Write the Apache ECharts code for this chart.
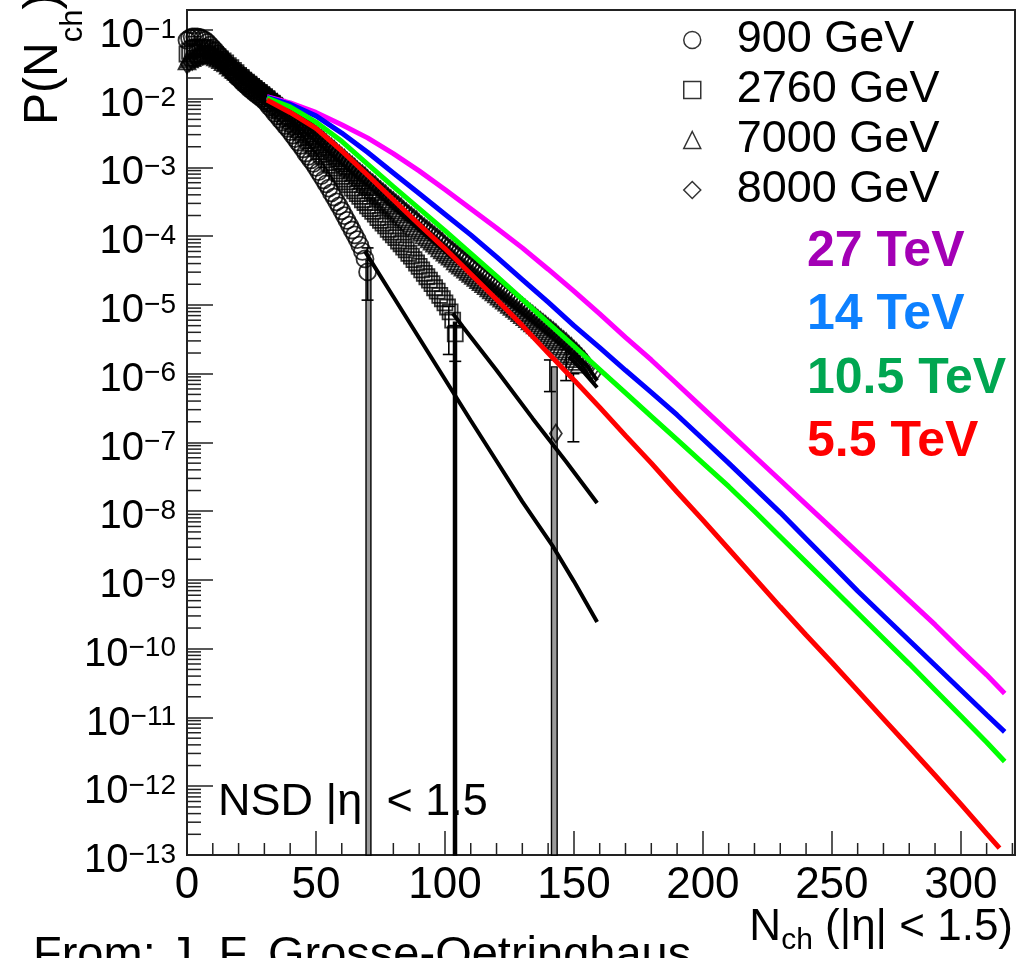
<!DOCTYPE html>
<html>
<head>
<meta charset="utf-8">
<script src="https://cdn.jsdelivr.net/npm/echarts@6.0.0/dist/echarts.min.js"></script>
<style>
html,body{margin:0;padding:0;background:#ffffff;}
#chart{width:1026px;height:958px;}
</style>
</head>
<body>
<div id="chart"></div>
<script>
// ---------- values: [N_ch, log10 P(N_ch)] ----------
const data900 = [[0,-1.15],[1,-1.12],[2,-1.10],[3,-1.10],[4,-1.10],[5,-1.11],[6,-1.13],[7,-1.15],[8,-1.18],[9,-1.22],[10,-1.26],[11,-1.30],[12,-1.35],[13,-1.39],[14,-1.44],[15,-1.48],[16,-1.53],[17,-1.57],[18,-1.62],[19,-1.66],[20,-1.70],[21,-1.74],[22,-1.78],[23,-1.81],[24,-1.85],[25,-1.88],[26,-1.91],[27,-1.94],[28,-1.97],[29,-2.00],[30,-2.03],[31,-2.07],[32,-2.12],[33,-2.16],[34,-2.21],[35,-2.25],[36,-2.30],[37,-2.34],[38,-2.39],[39,-2.43],[40,-2.48],[41,-2.53],[42,-2.58],[43,-2.63],[44,-2.68],[45,-2.73],[46,-2.79],[47,-2.84],[48,-2.89],[49,-2.94],[50,-3.00],[51,-3.06],[52,-3.12],[53,-3.18],[54,-3.24],[55,-3.30],[56,-3.37],[57,-3.43],[58,-3.50],[59,-3.56],[60,-3.63],[61,-3.70],[62,-3.77],[63,-3.84],[64,-3.91],[65,-3.98],[66,-4.05],[67,-4.13],[68,-4.22],[69,-4.33],[70,-4.52]];
const data2760 = [[0,-1.35],[1,-1.31],[2,-1.28],[3,-1.26],[4,-1.25],[5,-1.25],[6,-1.25],[7,-1.26],[8,-1.28],[9,-1.30],[10,-1.33],[11,-1.36],[12,-1.39],[13,-1.42],[14,-1.45],[15,-1.48],[16,-1.52],[17,-1.55],[18,-1.59],[19,-1.62],[20,-1.66],[21,-1.69],[22,-1.73],[23,-1.76],[24,-1.79],[25,-1.82],[26,-1.85],[27,-1.88],[28,-1.91],[29,-1.94],[30,-1.97],[31,-2.00],[32,-2.04],[33,-2.07],[34,-2.11],[35,-2.14],[36,-2.18],[37,-2.22],[38,-2.26],[39,-2.29],[40,-2.33],[41,-2.37],[42,-2.41],[43,-2.45],[44,-2.49],[45,-2.53],[46,-2.57],[47,-2.61],[48,-2.65],[49,-2.69],[50,-2.73],[51,-2.77],[52,-2.81],[53,-2.85],[54,-2.89],[55,-2.93],[56,-2.97],[57,-3.01],[58,-3.05],[59,-3.09],[60,-3.13],[61,-3.17],[62,-3.21],[63,-3.25],[64,-3.30],[65,-3.34],[66,-3.38],[67,-3.42],[68,-3.47],[69,-3.51],[70,-3.56],[71,-3.60],[72,-3.64],[73,-3.68],[74,-3.73],[75,-3.77],[76,-3.81],[77,-3.85],[78,-3.90],[79,-3.94],[80,-3.98],[81,-4.02],[82,-4.07],[83,-4.11],[84,-4.16],[85,-4.20],[86,-4.25],[87,-4.29],[88,-4.34],[89,-4.39],[90,-4.44],[91,-4.49],[92,-4.54],[93,-4.59],[94,-4.64],[95,-4.69],[96,-4.75],[97,-4.80],[98,-4.86],[99,-4.91],[100,-4.97],[101,-5.03],[102,-5.10],[103,-5.22],[104,-5.42]];
const data7000 = [[0,-1.45],[1,-1.42],[2,-1.40],[3,-1.38],[4,-1.36],[5,-1.35],[6,-1.34],[7,-1.34],[8,-1.34],[9,-1.35],[10,-1.37],[11,-1.39],[12,-1.41],[13,-1.43],[14,-1.46],[15,-1.48],[16,-1.51],[17,-1.54],[18,-1.57],[19,-1.60],[20,-1.63],[21,-1.66],[22,-1.69],[23,-1.72],[24,-1.75],[25,-1.78],[26,-1.81],[27,-1.84],[28,-1.87],[29,-1.90],[30,-1.93],[31,-1.96],[32,-1.99],[33,-2.02],[34,-2.05],[35,-2.08],[36,-2.11],[37,-2.14],[38,-2.17],[39,-2.20],[40,-2.24],[41,-2.27],[42,-2.30],[43,-2.33],[44,-2.37],[45,-2.40],[46,-2.43],[47,-2.46],[48,-2.50],[49,-2.53],[50,-2.56],[51,-2.59],[52,-2.63],[53,-2.66],[54,-2.69],[55,-2.72],[56,-2.76],[57,-2.79],[58,-2.83],[59,-2.86],[60,-2.90],[61,-2.93],[62,-2.97],[63,-3.00],[64,-3.04],[65,-3.07],[66,-3.11],[67,-3.14],[68,-3.18],[69,-3.21],[70,-3.25],[71,-3.28],[72,-3.32],[73,-3.35],[74,-3.39],[75,-3.42],[76,-3.46],[77,-3.49],[78,-3.52],[79,-3.55],[80,-3.59],[81,-3.62],[82,-3.65],[83,-3.68],[84,-3.72],[85,-3.75],[86,-3.78],[87,-3.81],[88,-3.85],[89,-3.88],[90,-3.91],[91,-3.94],[92,-3.98],[93,-4.01],[94,-4.04],[95,-4.07],[96,-4.10],[97,-4.13],[98,-4.17],[99,-4.20],[100,-4.23],[101,-4.26],[102,-4.29],[103,-4.32],[104,-4.36],[105,-4.39],[106,-4.42],[107,-4.45],[108,-4.48],[109,-4.51],[110,-4.54],[111,-4.57],[112,-4.60],[113,-4.63],[114,-4.66],[115,-4.69],[116,-4.72],[117,-4.75],[118,-4.78],[119,-4.81],[120,-4.84],[121,-4.87],[122,-4.90],[123,-4.93],[124,-4.96],[125,-4.99],[126,-5.02],[127,-5.05],[128,-5.08],[129,-5.11],[130,-5.14],[131,-5.17],[132,-5.20],[133,-5.23],[134,-5.26],[135,-5.29],[136,-5.32],[137,-5.35],[138,-5.38],[139,-5.41],[140,-5.44],[141,-5.47],[142,-5.50],[143,-5.53],[144,-5.57],[145,-5.60],[146,-5.64],[147,-5.67],[148,-5.71],[149,-5.74],[150,-5.78],[151,-5.82],[152,-5.86]];
const data8000 = [[0,-1.50],[1,-1.47],[2,-1.45],[3,-1.42],[4,-1.40],[5,-1.38],[6,-1.37],[7,-1.36],[8,-1.36],[9,-1.37],[10,-1.38],[11,-1.39],[12,-1.41],[13,-1.43],[14,-1.45],[15,-1.47],[16,-1.50],[17,-1.52],[18,-1.55],[19,-1.58],[20,-1.61],[21,-1.64],[22,-1.67],[23,-1.70],[24,-1.73],[25,-1.76],[26,-1.79],[27,-1.82],[28,-1.85],[29,-1.88],[30,-1.91],[31,-1.94],[32,-1.97],[33,-2.00],[34,-2.03],[35,-2.06],[36,-2.09],[37,-2.12],[38,-2.15],[39,-2.18],[40,-2.21],[41,-2.24],[42,-2.27],[43,-2.30],[44,-2.33],[45,-2.36],[46,-2.39],[47,-2.42],[48,-2.46],[49,-2.49],[50,-2.52],[51,-2.55],[52,-2.58],[53,-2.61],[54,-2.65],[55,-2.68],[56,-2.71],[57,-2.74],[58,-2.78],[59,-2.81],[60,-2.84],[61,-2.87],[62,-2.91],[63,-2.94],[64,-2.97],[65,-3.00],[66,-3.04],[67,-3.07],[68,-3.10],[69,-3.13],[70,-3.17],[71,-3.20],[72,-3.23],[73,-3.26],[74,-3.30],[75,-3.33],[76,-3.36],[77,-3.39],[78,-3.43],[79,-3.46],[80,-3.49],[81,-3.52],[82,-3.55],[83,-3.58],[84,-3.62],[85,-3.65],[86,-3.68],[87,-3.71],[88,-3.74],[89,-3.77],[90,-3.81],[91,-3.84],[92,-3.87],[93,-3.90],[94,-3.93],[95,-3.96],[96,-3.99],[97,-4.02],[98,-4.05],[99,-4.08],[100,-4.12],[101,-4.15],[102,-4.18],[103,-4.21],[104,-4.24],[105,-4.27],[106,-4.30],[107,-4.33],[108,-4.36],[109,-4.39],[110,-4.42],[111,-4.45],[112,-4.48],[113,-4.51],[114,-4.54],[115,-4.57],[116,-4.60],[117,-4.63],[118,-4.66],[119,-4.69],[120,-4.72],[121,-4.75],[122,-4.78],[123,-4.81],[124,-4.84],[125,-4.87],[126,-4.90],[127,-4.93],[128,-4.96],[129,-4.99],[130,-5.02],[131,-5.05],[132,-5.08],[133,-5.11],[134,-5.14],[135,-5.17],[136,-5.20],[137,-5.23],[138,-5.26],[139,-5.29],[140,-5.32],[141,-5.35],[142,-5.38],[143,-5.41],[144,-5.45],[145,-5.48],[146,-5.51],[147,-5.54],[148,-5.58],[149,-5.61],[150,-5.65],[151,-5.68],[152,-5.72],[153,-5.76],[154,-5.80],[155,-5.85],[156,-5.90],[157,-5.95],[158,-6.00],[143,-6.87]];

// black fit curves
const fit900  = [[69,-4.22],[80,-4.88],[90,-5.48],[100,-6.08],[110,-6.68],[120,-7.27],[130,-7.86],[142,-8.52],[150,-9.02],[159,-9.61]];
const fit2760 = [[103,-5.12],[107,-5.32],[120,-5.95],[134,-6.65],[147,-7.28],[159,-7.88]];
const fit7000 = [[148,-5.75],[153,-5.94],[159,-6.20]];
const fit8000 = [[150,-5.70],[155,-5.88],[159,-6.10]];

// model predictions
const tev27  = [[31,-1.97],[40,-2.06],[50,-2.20],[60,-2.38],[70,-2.57],[80,-2.80],[90,-3.05],[100,-3.32],[110,-3.60],[120,-3.88],[130,-4.17],[140,-4.48],[150,-4.80],[160,-5.13],[170,-5.47],[180,-5.80],[190,-6.15],[200,-6.50],[210,-6.85],[220,-7.20],[230,-7.55],[240,-7.90],[250,-8.25],[260,-8.60],[270,-8.95],[280,-9.30],[290,-9.65],[300,-10.02],[310,-10.38],[317,-10.65]];
const tev14  = [[31,-1.98],[40,-2.08],[50,-2.25],[60,-2.50],[70,-2.78],[80,-3.08],[90,-3.38],[100,-3.68],[110,-3.98],[120,-4.30],[130,-4.63],[140,-4.96],[150,-5.30],[160,-5.62],[170,-5.95],[180,-6.27],[190,-6.60],[200,-6.95],[210,-7.30],[220,-7.66],[230,-8.02],[240,-8.40],[250,-8.78],[260,-9.16],[270,-9.52],[280,-9.88],[290,-10.24],[300,-10.60],[310,-10.96],[317,-11.21]];
const tev105 = [[31,-1.99],[40,-2.12],[50,-2.34],[60,-2.62],[70,-2.95],[80,-3.28],[90,-3.60],[100,-3.92],[110,-4.25],[120,-4.58],[130,-4.92],[140,-5.26],[150,-5.60],[160,-5.94],[170,-6.28],[180,-6.62],[190,-6.96],[200,-7.30],[210,-7.64],[220,-8.00],[230,-8.37],[240,-8.74],[250,-9.11],[260,-9.48],[270,-9.85],[280,-10.22],[290,-10.60],[300,-10.98],[310,-11.36],[317,-11.64]];
const tev55  = [[31,-2.02],[40,-2.20],[50,-2.43],[60,-2.76],[70,-3.11],[80,-3.47],[90,-3.83],[100,-4.18],[110,-4.55],[120,-4.92],[130,-5.30],[140,-5.70],[150,-6.09],[160,-6.49],[170,-6.90],[180,-7.30],[190,-7.72],[200,-8.13],[210,-8.55],[220,-8.97],[230,-9.39],[240,-9.80],[250,-10.20],[260,-10.61],[270,-11.02],[280,-11.43],[290,-11.84],[300,-12.26],[310,-12.69],[315,-12.90]];

// error bars [N, log10 low, log10 high]
const errBars = [[70,-4.93,-4.17],[101.5,-5.72,-5.02],[104,-5.82,-5.30],[140.7,-6.26,-5.80],[147,-6.10,-5.65],[149.8,-6.99,-6.00]];
// error bars reaching below the axis [N from, N to, log10 low, log10 high, dark]
const longBars = [[69.4,71.3,-13,-4.35,0],[103.3,104.5,-13,-5.25,1],[141.3,143.5,-13,-5.90,0]];

const xTickLabels = [0,50,100,150,200,250,300];
const yDecades = [-13,-12,-11,-10,-9,-8,-7,-6,-5,-4,-3,-2,-1];

// ---------- build ----------
const FONT = '"Liberation Sans", Arial, Helvetica, sans-serif';
const toP = arr => arr.map(d => [d[0], Math.pow(10, d[1])]);
const Y_MIN = 1e-13, Y_MAX = Math.pow(10, -0.71), X_MAX = 321;

// minor tick positions (ROOT style)
const yMinor = [];
yDecades.forEach(e => { for (let k = 2; k <= 9; k++) { const v = k * Math.pow(10, e); if (v < Y_MAX) yMinor.push([0, v]); } });
const xMinor = [];
for (let n = 10; n <= 320; n += 10) if (n % 50 !== 0) xMinor.push([n, Y_MIN]);

const chart = echarts.init(document.getElementById('chart'), null, {renderer: 'canvas'});

function scatter(name, arr, symbol, size) {
  return {
    name, type: 'scatter', data: toP(arr), symbol, symbolSize: size, z: 3, silent: true,
    itemStyle: {color: 'rgba(0,0,0,0)', borderColor: '#000', borderWidth: 1.8}
  };
}
function line(name, arr, color, width, z) {
  return {
    name, type: 'line', data: toP(arr), showSymbol: false, symbol: 'none', z, silent: true,
    lineStyle: {color, width}, itemStyle: {color}
  };
}

const option = {
  backgroundColor: '#ffffff',
  animation: false,
  grid: {left: 187, right: 11, top: 10, bottom: 103, show: true, borderColor: '#222', borderWidth: 2, outerBoundsMode: 'none', containLabel: false},
  xAxis: {
    type: 'value', min: 0, max: X_MAX, interval: 50,
    axisLine: {show: true, lineStyle: {color: '#222', width: 2}},
    axisTick: {show: true, inside: true, length: 24, lineStyle: {color: '#222', width: 1.5}},
    splitLine: {show: false},
    axisLabel: {show: true, fontSize: 44, fontFamily: FONT, color: '#000', margin: 9, showMaxLabel: false, hideOverlap: false,
      formatter: v => (xTickLabels.indexOf(v) >= 0 ? String(v) : '')}
  },
  yAxis: {
    type: 'log', logBase: 10, min: Y_MIN, max: Y_MAX, interval: 1,
    axisLine: {show: true, lineStyle: {color: '#222', width: 2}},
    axisTick: {show: true, inside: true, length: 26, lineStyle: {color: '#222', width: 1.5}},
    splitLine: {show: false},
    axisLabel: {
      show: true, margin: 11, showMaxLabel: false, hideOverlap: false, padding: [12, 0, 0, 0],
      formatter: v => { const e = Math.round(Math.log10(v)); return '{b|10}{s|\u2212' + (-e) + '}'; },
      rich: {
        b: {fontSize: 40, lineHeight: 40, fontFamily: FONT, color: '#000', verticalAlign: 'bottom', padding: [6, 0, 0, 0]},
        s: {fontSize: 28, lineHeight: 28, fontFamily: FONT, color: '#000', verticalAlign: 'top'}
      }
    }
  },
  legend: {
    data: [{name: '900 GeV', icon: 'circle'}, {name: '2760 GeV', icon: 'rect'}, {name: '7000 GeV', icon: 'triangle'}, {name: '8000 GeV', icon: 'diamond'}],
    orient: 'vertical', left: 678, top: 10, itemWidth: 17, itemHeight: 17, itemGap: 0, selectedMode: false,
    itemStyle: {color: 'rgba(0,0,0,0)', borderColor: '#000', borderWidth: 1.5},
    textStyle: {fontSize: 45, fontFamily: FONT, color: '#000', lineHeight: 50, padding: [0, 0, 0, 31]}
  },
  graphic: [
    {type: 'text', x: 20, y: 125, rotation: Math.PI / 2, silent: true,
      style: {text: '{a|P(N}{s|ch}{a|)}', align: 'left', verticalAlign: 'top',
        rich: {a: {fontSize: 48, lineHeight: 48, fontFamily: FONT, fill: '#000', verticalAlign: 'top'},
               s: {fontSize: 31, lineHeight: 31, fontFamily: FONT, fill: '#000', verticalAlign: 'top', padding: [38, 0, 0, 0]}}}},
    {type: 'text', x: 1013, y: 906, silent: true,
      style: {text: '{a|N}{s|ch}{a| (|\u03b7| < 1.5)}', align: 'right', verticalAlign: 'top',
        rich: {a: {fontSize: 44, lineHeight: 44, fontFamily: FONT, fill: '#000', verticalAlign: 'top'},
               s: {fontSize: 30, lineHeight: 30, fontFamily: FONT, fill: '#000', verticalAlign: 'top', padding: [20, 0, 0, 0]}}}},
    {type: 'text', x: 218, y: 803, silent: true,
      style: {text: 'NSD |\u03b7| < 1.5', fontSize: 45, fontFamily: FONT, fill: '#000', verticalAlign: 'middle'}},
    {type: 'text', x: 807, y: 252, silent: true,
      style: {text: '27 TeV', fontSize: 50, fontWeight: 'bold', fontFamily: FONT, fill: '#a300b5', verticalAlign: 'middle'}},
    {type: 'text', x: 807, y: 315, silent: true,
      style: {text: '14 TeV', fontSize: 50, fontWeight: 'bold', fontFamily: FONT, fill: '#0d80ff', verticalAlign: 'middle'}},
    {type: 'text', x: 807, y: 379, silent: true,
      style: {text: '10.5 TeV', fontSize: 50, fontWeight: 'bold', fontFamily: FONT, fill: '#00a651', verticalAlign: 'middle'}},
    {type: 'text', x: 807, y: 442, silent: true,
      style: {text: '5.5 TeV', fontSize: 50, fontWeight: 'bold', fontFamily: FONT, fill: '#ff0000', verticalAlign: 'middle'}},
    {type: 'text', x: 33, y: 956, silent: true,
      style: {text: 'From: J. F. Grosse-Oetringhaus', fontSize: 47, fontFamily: FONT, fill: '#000', verticalAlign: 'middle'}}
  ],
  series: [
    {type: 'custom', name: 'yMinorTicks', data: yMinor, z: 1, silent: true, clip: false,
      encode: {x: 0, y: 1},
      renderItem: (p, api) => { const c = api.coord([api.value(0), api.value(1)]);
        return {type: 'line', shape: {x1: c[0], y1: c[1], x2: c[0] + 14, y2: c[1]}, style: {stroke: '#222', lineWidth: 1.5}}; }},
    {type: 'custom', name: 'xMinorTicks', data: xMinor, z: 1, silent: true, clip: false,
      encode: {x: 0, y: 1},
      renderItem: (p, api) => { const c = api.coord([api.value(0), api.value(1)]);
        return {type: 'line', shape: {x1: c[0], y1: c[1], x2: c[0], y2: c[1] - 12}, style: {stroke: '#222', lineWidth: 1.5}}; }},
    {type: 'custom', name: 'longBars', silent: true, z: 2, clip: false,
      data: longBars.map(b => [b[0], b[1], Math.pow(10, b[2]), Math.pow(10, b[3]), b[4]]),
      encode: {x: [0, 1], y: [2, 3]},
      renderItem: (p, api) => {
        const a = api.coord([api.value(0), api.value(3)]), b = api.coord([api.value(1), api.value(2)]);
        return {type: 'rect', shape: {x: a[0], y: a[1], width: b[0] - a[0], height: b[1] - a[1]},
          style: {fill: api.value(4) ? '#000' : '#9a9a9a', stroke: '#000', lineWidth: 1.4}};
      }},
    {type: 'custom', name: 'errBars', silent: true, z: 2, clip: false,
      data: errBars.map(b => [b[0], Math.pow(10, b[1]), Math.pow(10, b[2])]),
      encode: {x: 0, y: [1, 2]},
      renderItem: (p, api) => {
        const lo = api.coord([api.value(0), api.value(1)]), hi = api.coord([api.value(0), api.value(2)]);
        const st = {stroke: '#000', lineWidth: 1.6};
        return {type: 'group', children: [
          {type: 'line', shape: {x1: lo[0], y1: lo[1], x2: hi[0], y2: hi[1]}, style: st},
          {type: 'line', shape: {x1: lo[0] - 6, y1: lo[1], x2: lo[0] + 6, y2: lo[1]}, style: st},
          {type: 'line', shape: {x1: hi[0] - 6, y1: hi[1], x2: hi[0] + 6, y2: hi[1]}, style: st}
        ]};
      }},
    scatter('900 GeV', data900, 'circle', 17),
    scatter('2760 GeV', data2760, 'rect', 15),
    scatter('7000 GeV', data7000, 'triangle', 17),
    scatter('8000 GeV', data8000, 'diamond', [12, 18]),
    line('fit 900', fit900, '#000', 4, 4),
    line('fit 2760', fit2760, '#000', 4, 4),
    line('fit 7000', fit7000, '#000', 4, 4),
    line('fit 8000', fit8000, '#000', 4, 4),
    line('27 TeV', tev27, '#ff00ff', 5, 5),
    line('14 TeV', tev14, '#0000ff', 5, 5),
    line('10.5 TeV', tev105, '#00ff00', 5, 5),
    line('5.5 TeV', tev55, '#ff0000', 5, 5)
  ]
};
chart.setOption(option);
</script>
</body>
</html>
